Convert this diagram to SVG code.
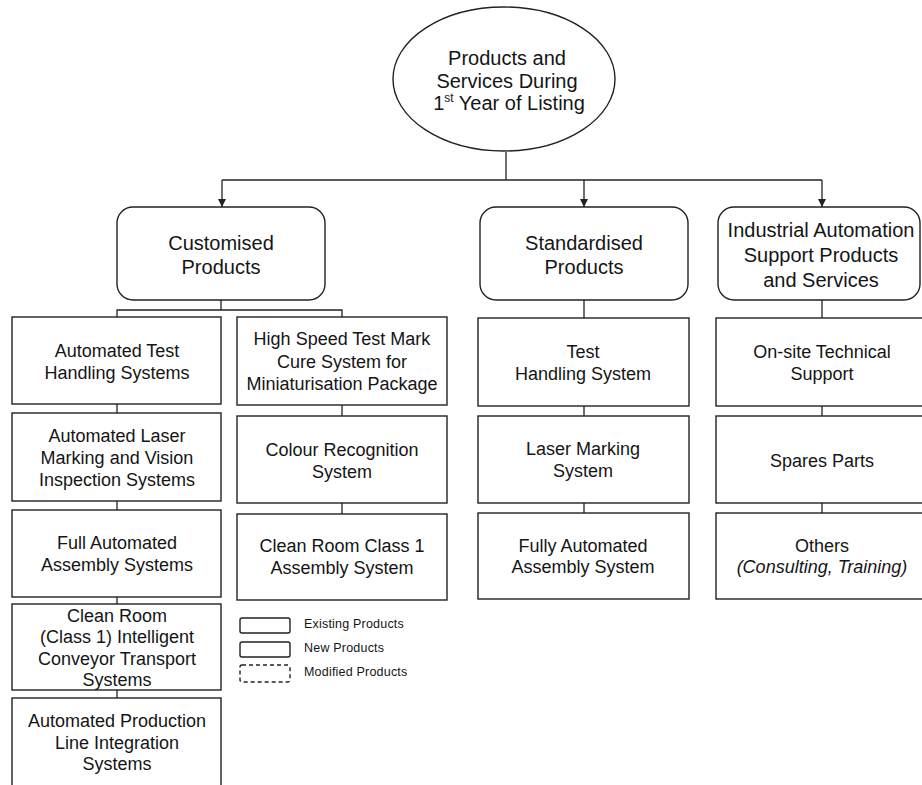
<svg xmlns="http://www.w3.org/2000/svg" width="922" height="785" viewBox="0 0 922 785">
<defs>
<style>
text{font-family:"Liberation Sans",Arial,sans-serif;fill:#151515;text-anchor:middle}
.h{font-size:20px}
.b{font-size:18px}
.lg{font-size:12.5px;text-anchor:start;letter-spacing:0.2px}
.box{fill:#fff;stroke:#222;stroke-width:1.4}
.ln{fill:none;stroke:#222;stroke-width:1.3}
</style>
<marker id="ah" viewBox="0 0 10 10" refX="10" refY="5" markerWidth="8" markerHeight="8" markerUnits="userSpaceOnUse" orient="auto">
<path d="M0,0 L10,5 L0,10 Z" fill="#222"/>
</marker>
</defs>
<rect width="922" height="785" fill="#fff"/>

<g id="connectors">
<path class="ln" d="M506,152 V180"/>
<path class="ln" d="M222,180 H822"/>
<path class="ln" d="M222,180 V207" marker-end="url(#ah)"/>
<path class="ln" d="M584,180 V207" marker-end="url(#ah)"/>
<path class="ln" d="M822,180 V207" marker-end="url(#ah)"/>
<path class="ln" d="M221,300 V310 M117,317 V310 H342 V317"/>
<path class="ln" d="M117,404 V413 M117,501 V510 M117,597 V604 M117,690 V698"/>
<path class="ln" d="M342,405 V416 M342,503 V514"/>
<path class="ln" d="M584,300 V318 M584,406 V416 M584,503 V513"/>
<path class="ln" d="M822,300 V318 M822,406 V416 M822,503 V513"/>
</g>

<g id="root">
<ellipse class="box" cx="504" cy="79" rx="111" ry="72"/>
<text class="h" x="507" y="65">Products and</text>
<text class="h" x="507" y="88">Services During</text>
<text class="h" x="509" y="110">1<tspan font-size="12" dy="-8">st</tspan><tspan dy="8"> Year of Listing</tspan></text>
</g>

<g id="customised">
<rect class="box" x="117" y="207" width="208" height="93" rx="16"/>
<text class="h" x="221" y="250">Customised</text>
<text class="h" x="221" y="274">Products</text>
</g>
<g id="standardised">
<rect class="box" x="480" y="207" width="208" height="93" rx="16"/>
<text class="h" x="584" y="250">Standardised</text>
<text class="h" x="584" y="274">Products</text>
</g>
<g id="industrial">
<rect class="box" x="718" y="207" width="202" height="93" rx="16"/>
<text class="h" x="821" y="237">Industrial Automation</text>
<text class="h" x="821" y="262">Support Products</text>
<text class="h" x="821" y="287">and Services</text>
</g>

<g id="c1">
<rect class="box" x="12" y="317" width="209" height="87"/>
<text class="b" x="117" y="357">Automated Test</text>
<text class="b" x="117" y="379">Handling Systems</text>
</g>
<g id="c2">
<rect class="box" x="12" y="413" width="209" height="88"/>
<text class="b" x="117" y="442">Automated Laser</text>
<text class="b" x="117" y="464">Marking and Vision</text>
<text class="b" x="117" y="486">Inspection Systems</text>
</g>
<g id="c3">
<rect class="box" x="12" y="510" width="209" height="87"/>
<text class="b" x="117" y="549">Full Automated</text>
<text class="b" x="117" y="571">Assembly Systems</text>
</g>
<g id="c4">
<rect class="box" x="12" y="604" width="209" height="86"/>
<text class="b" x="117" y="622">Clean Room</text>
<text class="b" x="117" y="643">(Class 1) Intelligent</text>
<text class="b" x="117" y="665">Conveyor Transport</text>
<text class="b" x="117" y="686">Systems</text>
</g>
<g id="c5">
<rect class="box" x="12" y="698" width="209" height="92"/>
<text class="b" x="117" y="727">Automated Production</text>
<text class="b" x="117" y="749">Line Integration</text>
<text class="b" x="117" y="770">Systems</text>
</g>

<g id="c6">
<rect class="box" x="237" y="317" width="210" height="88"/>
<text class="b" x="342" y="345">High Speed Test Mark</text>
<text class="b" x="342" y="368">Cure System for</text>
<text class="b" x="342" y="390">Miniaturisation Package</text>
</g>
<g id="c7">
<rect class="box" x="237" y="416" width="210" height="87"/>
<text class="b" x="342" y="456">Colour Recognition</text>
<text class="b" x="342" y="478">System</text>
</g>
<g id="c8">
<rect class="box" x="237" y="514" width="210" height="86"/>
<text class="b" x="342" y="552">Clean Room Class 1</text>
<text class="b" x="342" y="574">Assembly System</text>
</g>

<g id="s1">
<rect class="box" x="478" y="318" width="211" height="88"/>
<text class="b" x="583" y="358">Test</text>
<text class="b" x="583" y="380">Handling System</text>
</g>
<g id="s2">
<rect class="box" x="478" y="416" width="211" height="87"/>
<text class="b" x="583" y="455">Laser Marking</text>
<text class="b" x="583" y="477">System</text>
</g>
<g id="s3">
<rect class="box" x="478" y="513" width="211" height="86"/>
<text class="b" x="583" y="552">Fully Automated</text>
<text class="b" x="583" y="573">Assembly System</text>
</g>

<g id="i1">
<rect class="box" x="716" y="318" width="210" height="88"/>
<text class="b" x="822" y="358">On-site Technical</text>
<text class="b" x="822" y="380">Support</text>
</g>
<g id="i2">
<rect class="box" x="716" y="416" width="210" height="87"/>
<text class="b" x="822" y="467">Spares Parts</text>
</g>
<g id="i3">
<rect class="box" x="716" y="513" width="210" height="86"/>
<text class="b" x="822" y="552">Others</text>
<text class="b" x="822" y="573" font-style="italic">(Consulting, Training)</text>
</g>

<g id="legend">
<rect class="box" x="240" y="618" width="50" height="15" rx="2" stroke-width="1.2"/>
<rect class="box" x="240" y="642" width="50" height="15" rx="2" stroke-width="1.2"/>
<rect class="box" x="240" y="665" width="50" height="17" rx="2" stroke-width="1.2" stroke-dasharray="4 3"/>
<text class="lg" x="304" y="628">Existing Products</text>
<text class="lg" x="304" y="652">New Products</text>
<text class="lg" x="304" y="676">Modified Products</text>
</g>
</svg>
